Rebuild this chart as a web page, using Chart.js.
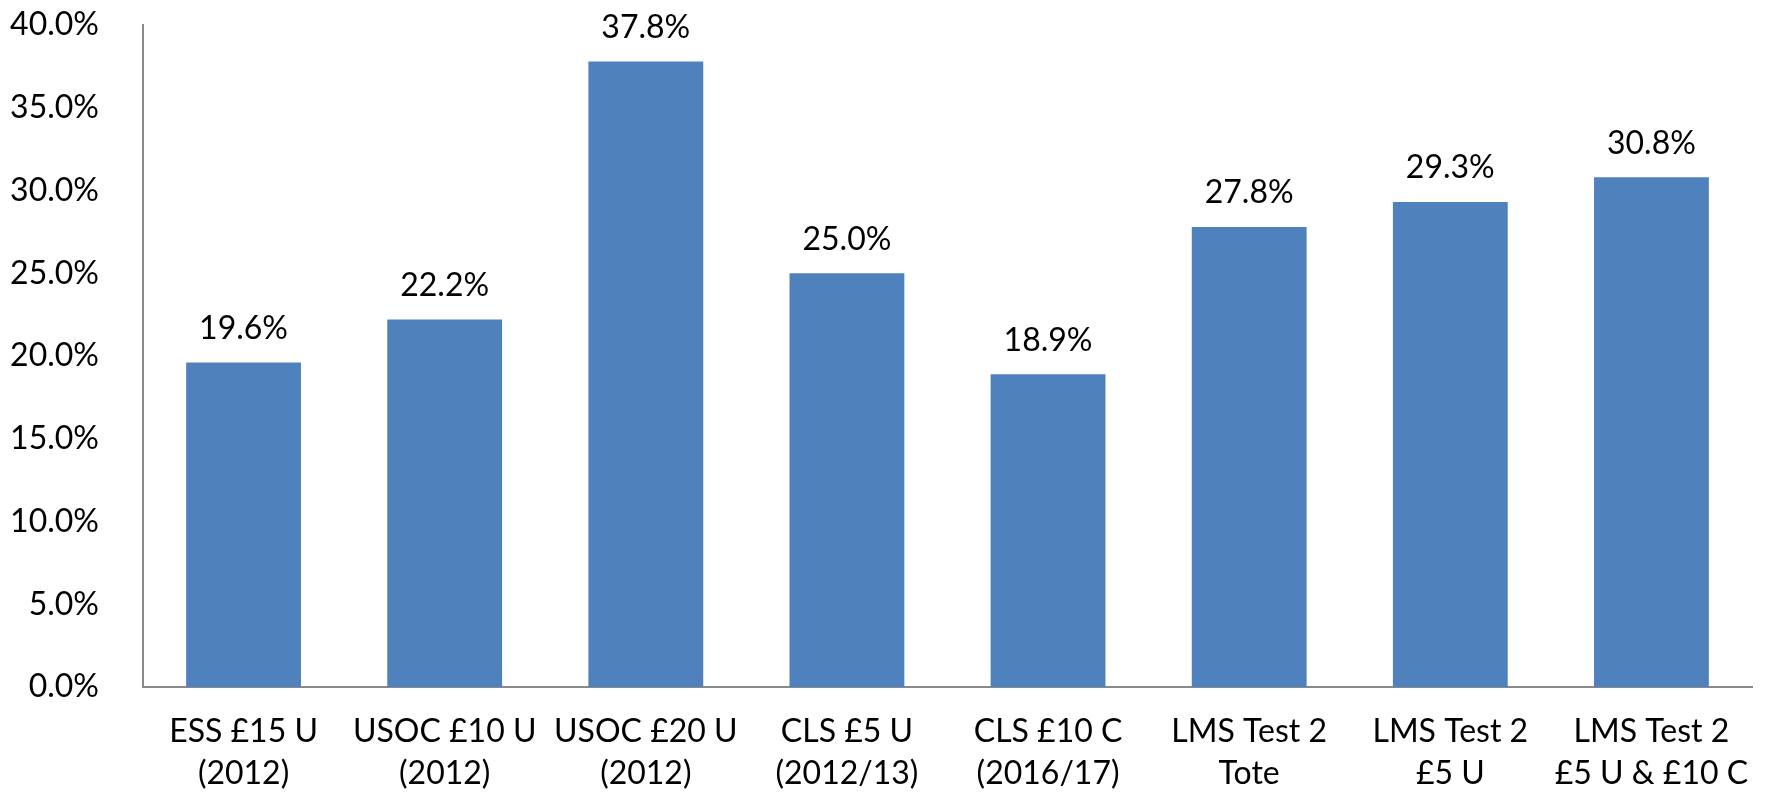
<!DOCTYPE html>
<html>
<head>
<meta charset="utf-8">
<script src="https://cdn.jsdelivr.net/npm/chart.js@4"></script>
<style>
  html, body { margin: 0; padding: 0; background: #fff; }
  #wrap { width: 1770px; height: 799px; }
</style>
</head>
<body>
<div id="wrap"><canvas id="barChart" width="1770" height="799"></canvas></div>
<script>
const categories = [
    ['ESS £15 U', '(2012)'],
    ['USOC £10 U', '(2012)'],
    ['USOC £20 U', '(2012)'],
    ['CLS £5 U', '(2012/13)'],
    ['CLS £10 C', '(2016/17)'],
    ['LMS Test 2', 'Tote'],
    ['LMS Test 2', '£5 U'],
    ['LMS Test 2', '£5 U & £10 C']
];
const rates = [19.6, 22.2, 37.8, 25.0, 18.9, 27.8, 29.3, 30.8];
const yTicks = [0, 5, 10, 15, 20, 25, 30, 35, 40];

const FONT = 'Lato, "Open Sans", sans-serif';

// value labels above each bar
const barLabels = {
    id: 'barLabels',
    afterDatasetsDraw(chart) {
        const ctx = chart.ctx;
        const meta = chart.getDatasetMeta(0);
        ctx.save();
        ctx.font = '32px ' + FONT;
        ctx.fillStyle = '#000';
        ctx.textAlign = 'center';
        ctx.textBaseline = 'middle';
        meta.data.forEach((bar, i) => {
            ctx.fillText(rates[i].toFixed(1) + '%', bar.x, bar.y - 34);
        });
        ctx.restore();
    }
};

new Chart(document.getElementById('barChart').getContext('2d'), {
    type: 'bar',
    data: {
        labels: categories,
        datasets: [{
            data: rates,
            backgroundColor: '#4F81BD',
            borderWidth: 0,
            categoryPercentage: 1,
            barPercentage: 0.571
        }]
    },
    options: {
        responsive: false,
        animation: false,
        layout: { padding: { top: 25, right: 18, left: 0, bottom: 0 } },
        plugins: { legend: { display: false }, tooltip: { enabled: false } },
        scales: {
            x: {
                grid: { display: false },
                border: { display: true, color: '#898989', width: 2 },
                ticks: {
                    color: '#000',
                    font: { family: FONT, size: 32, lineHeight: 1.3 },
                    padding: 16,
                    maxRotation: 0,
                    autoSkip: false
                },
                afterFit(scale) {
                    scale.height = 112;
                    scale.paddingLeft = 0;
                    scale.paddingRight = 0;
                }
            },
            y: {
                min: 0,
                max: 40,
                grid: { display: false },
                border: { display: true, color: '#898989', width: 2 },
                afterBuildTicks(scale) { scale.ticks = yTicks.map(v => ({ value: v })); },
                ticks: {
                    color: '#000',
                    font: { family: FONT, size: 32 },
                    padding: 36,
                    callback: v => v.toFixed(1) + '%'
                },
                afterFit(scale) {
                    scale.width = 143;
                    scale.paddingTop = 0;
                    scale.paddingBottom = 0;
                }
            }
        }
    },
    plugins: [barLabels]
});
</script>
</body>
</html>
